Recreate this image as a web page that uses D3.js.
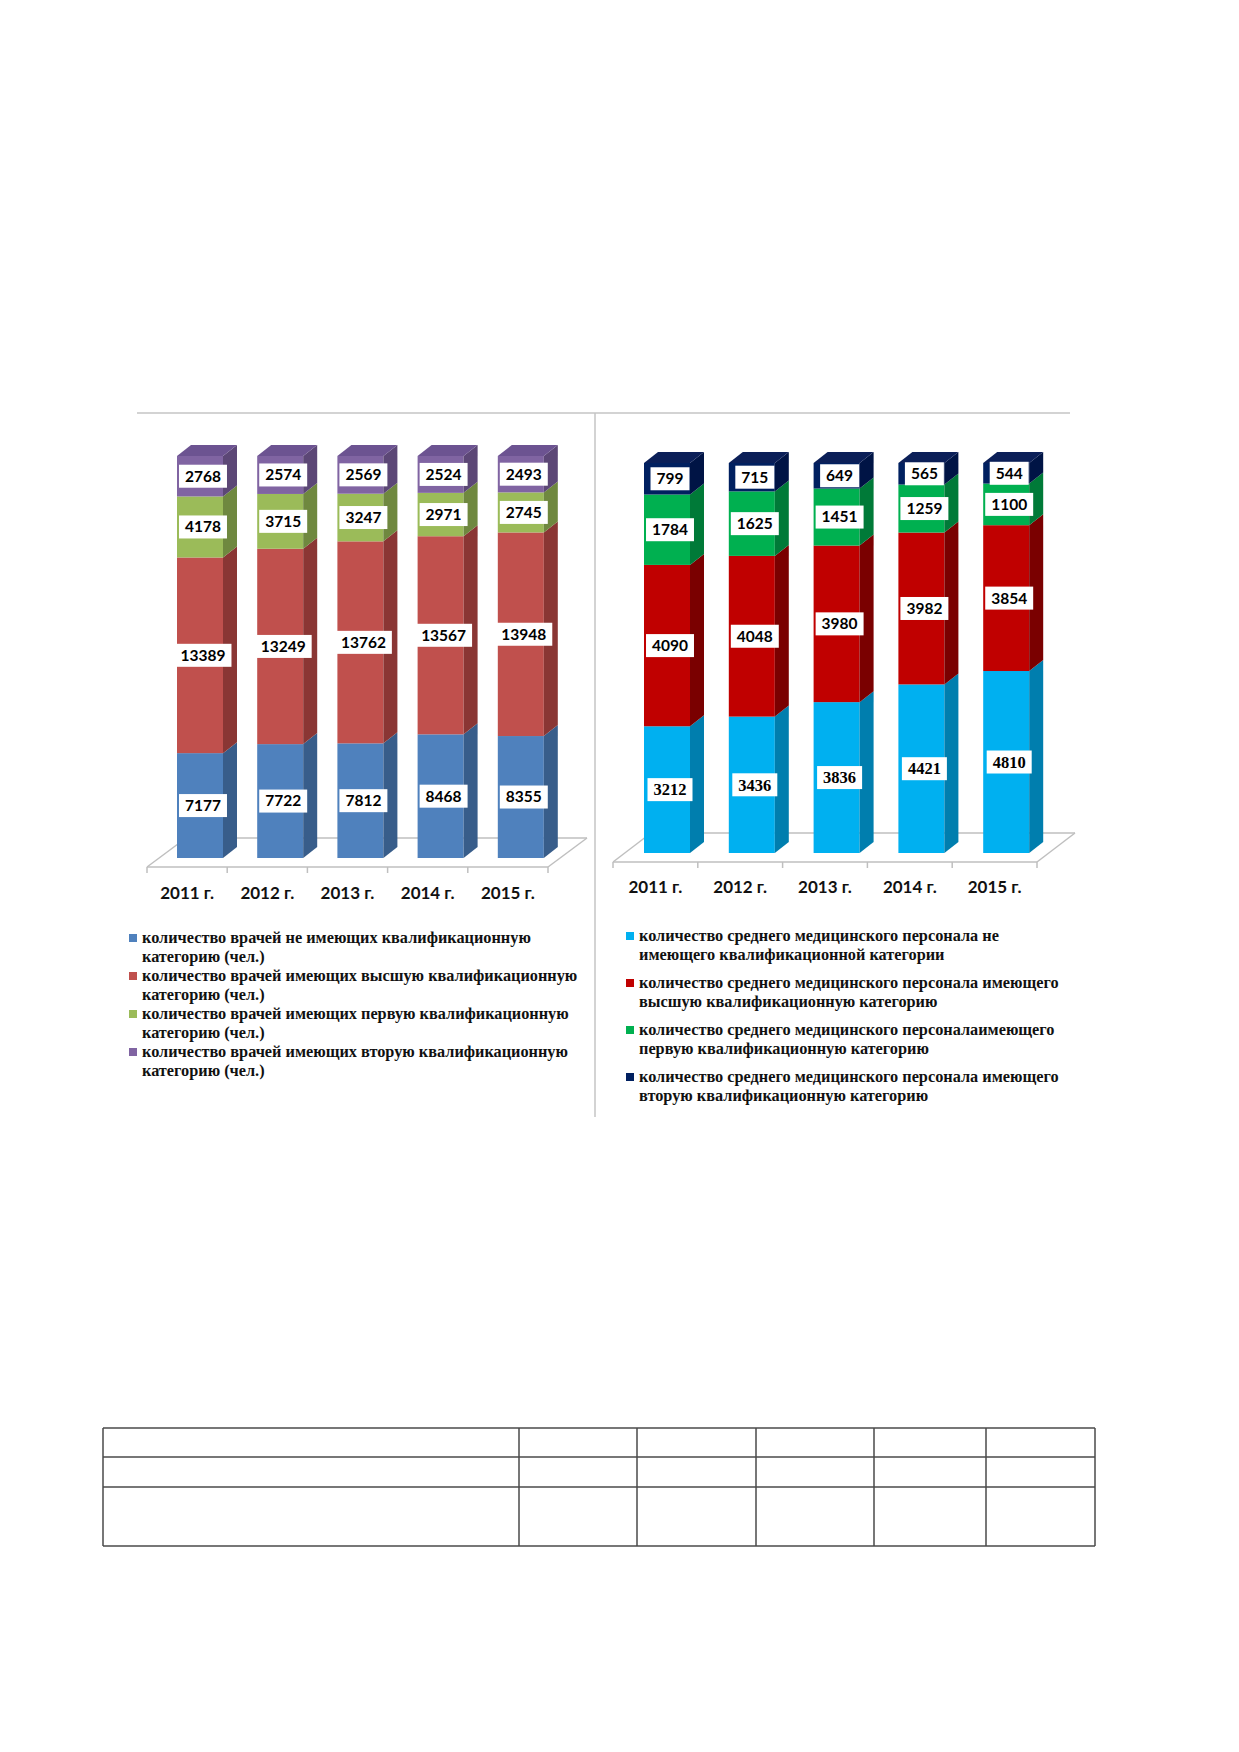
<!DOCTYPE html>
<html>
<head>
<meta charset="utf-8">
<script src="https://cdn.jsdelivr.net/npm/d3@7"></script>
<style>
  body { margin: 0; background: #fff; }
  svg { display: block; }
  .floor line { stroke: #bfbfbf; stroke-width: 1.5; }
  .year { font-family: Lato, "Open Sans", sans-serif; font-weight: 700; font-size: 17px; fill: #111; }
  .legend text { font-family: "Liberation Serif", serif; font-weight: 700; font-size: 16.3px; fill: #111; }
</style>
</head>
<body>
<svg id="page" width="1239" height="1752"></svg>
<script>
const years = ['2011 г.', '2012 г.', '2013 г.', '2014 г.', '2015 г.'];

// врачи
const doctorsNoCategory = [7177, 7722, 7812, 8468, 8355];
const doctorsHighest = [13389, 13249, 13762, 13567, 13948];
const doctorsFirst = [4178, 3715, 3247, 2971, 2745];
const doctorsSecond = [2768, 2574, 2569, 2524, 2493];
const doctorsLegend = [
  ['количество врачей не имеющих квалификационную', 'категорию (чел.)'],
  ['количество врачей имеющих высшую квалификационную', 'категорию (чел.)'],
  ['количество врачей  имеющих первую квалификационную', 'категорию (чел.)'],
  ['количество врачей имеющих вторую квалификационную', 'категорию (чел.)']
];

// средний медицинский персонал
const nursesNoCategory = [3212, 3436, 3836, 4421, 4810];
const nursesHighest = [4090, 4048, 3980, 3982, 3854];
const nursesFirst = [1784, 1625, 1451, 1259, 1100];
const nursesSecond = [799, 715, 649, 565, 544];
const nursesLegend = [
  ['количество среднего медицинского персонала  не', 'имеющего квалификационной категории'],
  ['количество среднего медицинского персонала имеющего', 'высшую квалификационную категорию'],
  ['количество среднего медицинского персоналаимеющего', 'первую квалификационную категорию'],
  ['количество среднего медицинского персонала имеющего', 'вторую квалификационную категорию']
];

const svg = d3.select('#page');

function toRows(series) {
  return years.map((year, i) => {
    const row = { year };
    series.forEach((values, k) => row['s' + k] = values[i]);
    return row;
  });
}

function drawChart(cfg) {
  const keys = cfg.series.map((_, k) => 's' + k);
  const stacked = d3.stack().keys(keys).offset(d3.stackOffsetExpand)(toRows(cfg.series));
  const x = d3.scaleBand().domain(years).range(cfg.xRange);
  const y = d3.scaleLinear().domain([0, 1]).range(cfg.yRange);
  const g = svg.append('g');
  const f = cfg.floor;

  // floor
  const floor = g.append('g').attr('class', 'floor');
  const [x0, x1] = cfg.xRange;
  floor.append('line').attr('x1', x0).attr('y1', f.y).attr('x2', x1).attr('y2', f.y);
  floor.append('line').attr('x1', x0 + f.dx).attr('y1', f.y + f.dy).attr('x2', x1 + f.dx).attr('y2', f.y + f.dy);
  floor.append('line').attr('x1', x0).attr('y1', f.y).attr('x2', x0 + f.dx).attr('y2', f.y + f.dy);
  floor.append('line').attr('x1', x1).attr('y1', f.y).attr('x2', x1 + f.dx).attr('y2', f.y + f.dy);
  floor.selectAll('.tick').data(years.map(d => x(d)).concat([x1])).join('line')
    .attr('x1', d => d).attr('x2', d => d).attr('y1', f.y).attr('y2', f.y + 6);

  // bars
  const dx = cfg.depth.dx, dy = cfg.depth.dy;
  const bx = d => x(d.data.year) + cfg.barOffset;
  const bw = cfg.barWidth;
  stacked.forEach((layer, k) => {
    const lg = g.append('g');
    lg.selectAll('.front').data(layer).join('rect')
      .attr('x', bx).attr('y', d => y(d[1]))
      .attr('width', bw).attr('height', d => y(d[0]) - y(d[1]))
      .attr('fill', cfg.front[k]);
    lg.selectAll('.side').data(layer).join('path')
      .attr('d', d => {
        const xr = bx(d) + bw;
        return `M${xr},${y(d[1])}l${dx},${dy}L${xr + dx},${y(d[0]) + dy}L${xr},${y(d[0])}Z`;
      })
      .attr('fill', cfg.side[k]);
    if (k === keys.length - 1) {
      lg.selectAll('.top').data(layer).join('path')
        .attr('d', d => `M${bx(d)},${y(d[1])}l${dx},${dy}h${bw}l${-dx},${-dy}Z`)
        .attr('fill', cfg.top);
    }
  });

  // value labels
  stacked.forEach((layer, k) => {
    const lab = g.selectAll('.lab' + k).data(layer).join('g')
      .attr('transform', d => `translate(${bx(d) + bw / 2 + 3},${(y(d[0]) + y(d[1])) / 2})`);
    lab.append('rect').attr('fill', '#fff');
    const txt = lab.append('text')
      .attr('text-anchor', 'middle').attr('dy', '0.35em')
      .style('font-family', cfg.labelFont[k]).style('font-weight', 700)
      .style('font-size', cfg.labelSize[k] + 'px').attr('fill', '#000')
      .text(d => d.data['s' + k]);
    txt.each(function () {
      const w = this.getComputedTextLength();
      d3.select(this.previousSibling)
        .attr('x', -w / 2 - 6).attr('y', -11.5).attr('width', w + 12).attr('height', 23);
    });
  });

  // year labels
  g.selectAll('.year').data(years).join('text').attr('class', 'year')
    .attr('x', d => x(d) + x.bandwidth() / 2).attr('y', cfg.yearY)
    .attr('text-anchor', 'middle').text(d => d);

  // legend
  const leg = g.append('g').attr('class', 'legend');
  cfg.legend.forEach((lines, k) => {
    const top = cfg.legendY + k * cfg.legendGap;
    leg.append('rect').attr('x', cfg.legendX - 13).attr('y', top - 4)
      .attr('width', 8).attr('height', 8).attr('fill', cfg.front[k]);
    lines.forEach((line, j) => {
      leg.append('text').attr('x', cfg.legendX).attr('y', top + j * 19 + 5).text(line);
    });
  });
}

// frame lines
svg.append('line').attr('x1', 137).attr('y1', 413).attr('x2', 1070).attr('y2', 413)
  .attr('stroke', '#c4c4c4').attr('stroke-width', 1.5);
svg.append('line').attr('x1', 595).attr('y1', 413).attr('x2', 595).attr('y2', 1117)
  .attr('stroke', '#c4c4c4').attr('stroke-width', 1.5);

drawChart({
  series: [doctorsNoCategory, doctorsHighest, doctorsFirst, doctorsSecond],
  legend: doctorsLegend,
  xRange: [147, 548], yRange: [858, 456],
  barOffset: 30, barWidth: 46, depth: { dx: 14, dy: -11 },
  floor: { y: 867, dx: 39, dy: -29 },
  front: ['#4f81bd', '#c0504d', '#9bbb59', '#8064a2'],
  side: ['#385d8a', '#8a3634', '#6f883f', '#5c4776'],
  top: '#6c5391',
  labelFont: ['Lato', 'Lato', 'Lato', 'Lato'], labelSize: [15.5, 15.5, 15.5, 15.5],
  yearY: 899,
  legendX: 142, legendY: 938, legendGap: 38
});

drawChart({
  series: [nursesNoCategory, nursesHighest, nursesFirst, nursesSecond],
  legend: nursesLegend,
  xRange: [613, 1037], yRange: [853, 463],
  barOffset: 31, barWidth: 46, depth: { dx: 14, dy: -11 },
  floor: { y: 862, dx: 38, dy: -29 },
  front: ['#00b0f0', '#c00000', '#00b050', '#002060'],
  side: ['#007eae', '#7a0000', '#007a38', '#001445'],
  top: '#0b1f58',
  labelFont: ['Liberation Serif', 'Lato', 'Lato', 'Lato'], labelSize: [16.5, 15.5, 15.5, 15.5],
  yearY: 893,
  legendX: 639, legendY: 936, legendGap: 47
});

// empty table below the charts
const colEdges = [103, 519, 637, 756, 874, 986, 1095];
const rowEdges = [1428, 1457, 1487, 1546];
const table = svg.append('g').attr('stroke', '#4a4a4a').attr('stroke-width', 1.5);
table.selectAll('.col').data(colEdges).join('line')
  .attr('x1', d => d).attr('x2', d => d).attr('y1', rowEdges[0]).attr('y2', rowEdges[3]);
table.selectAll('.row').data(rowEdges).join('line')
  .attr('x1', colEdges[0]).attr('x2', colEdges[6]).attr('y1', d => d).attr('y2', d => d);
</script>
</body>
</html>
